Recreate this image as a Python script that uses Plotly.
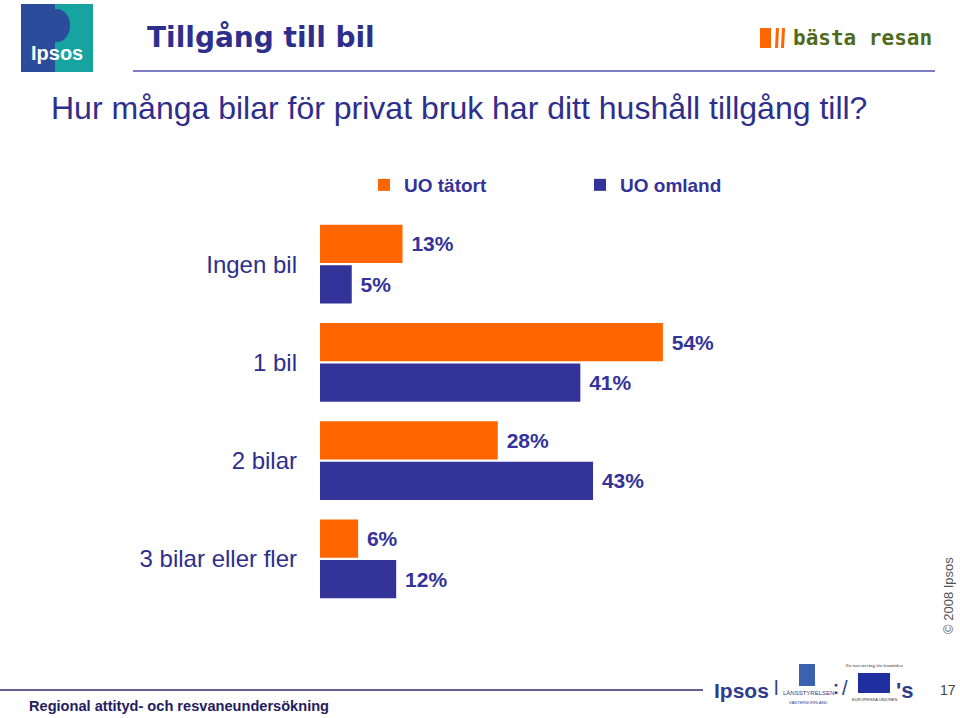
import plotly.graph_objects as go

categories = ["Ingen bil", "1 bil", "2 bilar", "3 bilar eller fler"]
series_names = ["UO tätort", "UO omland"]
tatort = [13, 54, 28, 6]
omland = [5, 41, 43, 12]
value_labels_tatort = [f"\u00a0{v}%" for v in tatort]
value_labels_omland = [f"\u00a0{v}%" for v in omland]

ORANGE = "#FF6600"
BLUE = "#333399"
NAVY = "#2E2E8C"
W, H = 960, 718
FONT = "Liberation Sans, Arial, sans-serif"

fig = go.Figure()
for name, vals, labels, col in [
    (series_names[0], tatort, value_labels_tatort, ORANGE),
    (series_names[1], omland, value_labels_omland, BLUE),
]:
    fig.add_trace(go.Bar(
        y=categories, x=vals, name=name, orientation="h",
        marker=dict(color=col, line=dict(width=0)),
        text=labels, textposition="outside", cliponaxis=False,
        textfont=dict(family=FONT, size=21, color=BLUE, weight="bold"),
        hoverinfo="skip",
    ))

x0 = 320 / W
x1 = 955 / W
fig.update_layout(
    width=W, height=H,
    margin=dict(l=0, r=0, t=0, b=0),
    paper_bgcolor="white", plot_bgcolor="white",
    barmode="group", bargap=0.18, bargroupgap=0.05,
    showlegend=True,
    legend=dict(orientation="h", x=364 / W, y=1 - 185 / H, xanchor="left", yanchor="middle",
                entrywidth=171, entrywidthmode="pixels", itemwidth=30,
                font=dict(family=FONT, size=19, color=BLUE, weight="bold"),
                bgcolor="rgba(0,0,0,0)", traceorder="normal", itemclick=False),
    xaxis=dict(domain=[x0, x1], range=[0, 100], showgrid=False, zeroline=False,
               showticklabels=False, showline=False, fixedrange=True),
    yaxis=dict(domain=[1 - 608 / H, 1 - 215 / H], autorange="reversed", showgrid=False,
               showline=False, ticks="", ticklabelstandoff=22,
               tickfont=dict(family=FONT, size=24, color=NAVY),
               fixedrange=True),
    font=dict(family=FONT),
)


def px(x):
    return x / W


def py(y):
    return 1 - y / H


shapes = []
annotations = []


def ann(text, x, y, size, color, family=FONT, weight="normal", xanchor="center", angle=0):
    annotations.append(dict(text=text, x=px(x), y=py(y), xref="paper", yref="paper",
                            xanchor=xanchor, yanchor="middle", showarrow=False, textangle=angle,
                            font=dict(family=family, size=size, color=color, weight=weight)))


def rect(xa, xb, ya, yb, color, layer="above"):
    shapes.append(dict(type="rect", xref="paper", yref="paper", x0=px(xa), x1=px(xb),
                       y0=py(yb), y1=py(ya), fillcolor=color, line=dict(width=0), layer=layer))


# header and footer rules
shapes.append(dict(type="line", xref="paper", yref="paper", x0=px(133), x1=px(935),
                   y0=py(71), y1=py(71), line=dict(color="#5050B0", width=1.5)))
shapes.append(dict(type="line", xref="paper", yref="paper", x0=0, x1=px(703),
                   y0=py(690), y1=py(690), line=dict(color="#2E2E6E", width=1.5)))

# Ipsos logo
rect(21, 93, 4, 72, "#17A3A0", layer="below")
rect(21, 55, 4, 72, "#2B4C9B", layer="below")
shapes.append(dict(type="circle", xref="paper", yref="paper", x0=px(44), x1=px(70),
                   y0=py(42), y1=py(9), fillcolor="#2B4C9B", line=dict(width=0), layer="below"))
ann("Ipsos", 57, 53, 20, "white", weight="bold")

# title
ann("Tillgång till bil", 145, 38, 28, NAVY, family="DejaVu Sans, sans-serif", weight="bold", xanchor="left")

# bästa resan logo
rect(760, 771, 28, 48, ORANGE)
shapes.append(dict(type="path", xref="paper", yref="paper",
                   path=f"M {px(775)} {py(48)} L {px(778)} {py(48)} L {px(779)} {py(28)} L {px(776)} {py(28)} Z",
                   fillcolor=ORANGE, line=dict(width=0)))
shapes.append(dict(type="path", xref="paper", yref="paper",
                   path=f"M {px(781)} {py(48)} L {px(784)} {py(48)} L {px(785)} {py(28)} L {px(782)} {py(28)} Z",
                   fillcolor=ORANGE, line=dict(width=0)))
ann("bästa resan", 791, 38, 21, "#4E6A1C", family="DejaVu Sans Mono, monospace", weight="bold", xanchor="left")

# question
ann("Hur många bilar för privat bruk har ditt hushåll tillgång till?", 49, 108, 32, NAVY, xanchor="left")

# footer
ann("Regional attityd- och resvaneundersökning", 27, 706, 14.6, "#1F2060", weight="bold", xanchor="left")
ann("17", 948, 690, 14, "#444")
ann("© 2008 Ipsos", 948, 596, 13, "#555", angle=-90)

# bottom logos
ann("Ipsos", 741, 690, 21, "#2E3C8C", weight="bold")
ann("l", 776, 688, 20, "#2E3C8C")
rect(799, 815, 664, 686, "#3A62B0")
ann("LÄNSSTYRELSEN", 808, 693, 6, "#2E3C8C")
ann("VÄSTERNORRLAND", 808, 702, 4, "#2E3C8C")
ann(":", 836, 688, 18, "#2E3C8C", weight="bold")
ann("/", 845, 688, 20, "#2E3C8C")
ann("En investering för framtiden", 874, 665, 5, "#333", family="Liberation Serif, serif")
rect(858, 890, 673, 693, "#1F2F9F")
ann("EUROPEISKA UNIONEN", 874, 699, 4, "#333")
ann("'s", 904, 690, 22, "#2E3C8C", weight="bold")

fig.update_layout(shapes=shapes, annotations=annotations)
fig.write_html("out.html", config={"displayModeBar": False},
               post_script="document.body.style.margin='0';document.body.style.overflow='hidden';")
